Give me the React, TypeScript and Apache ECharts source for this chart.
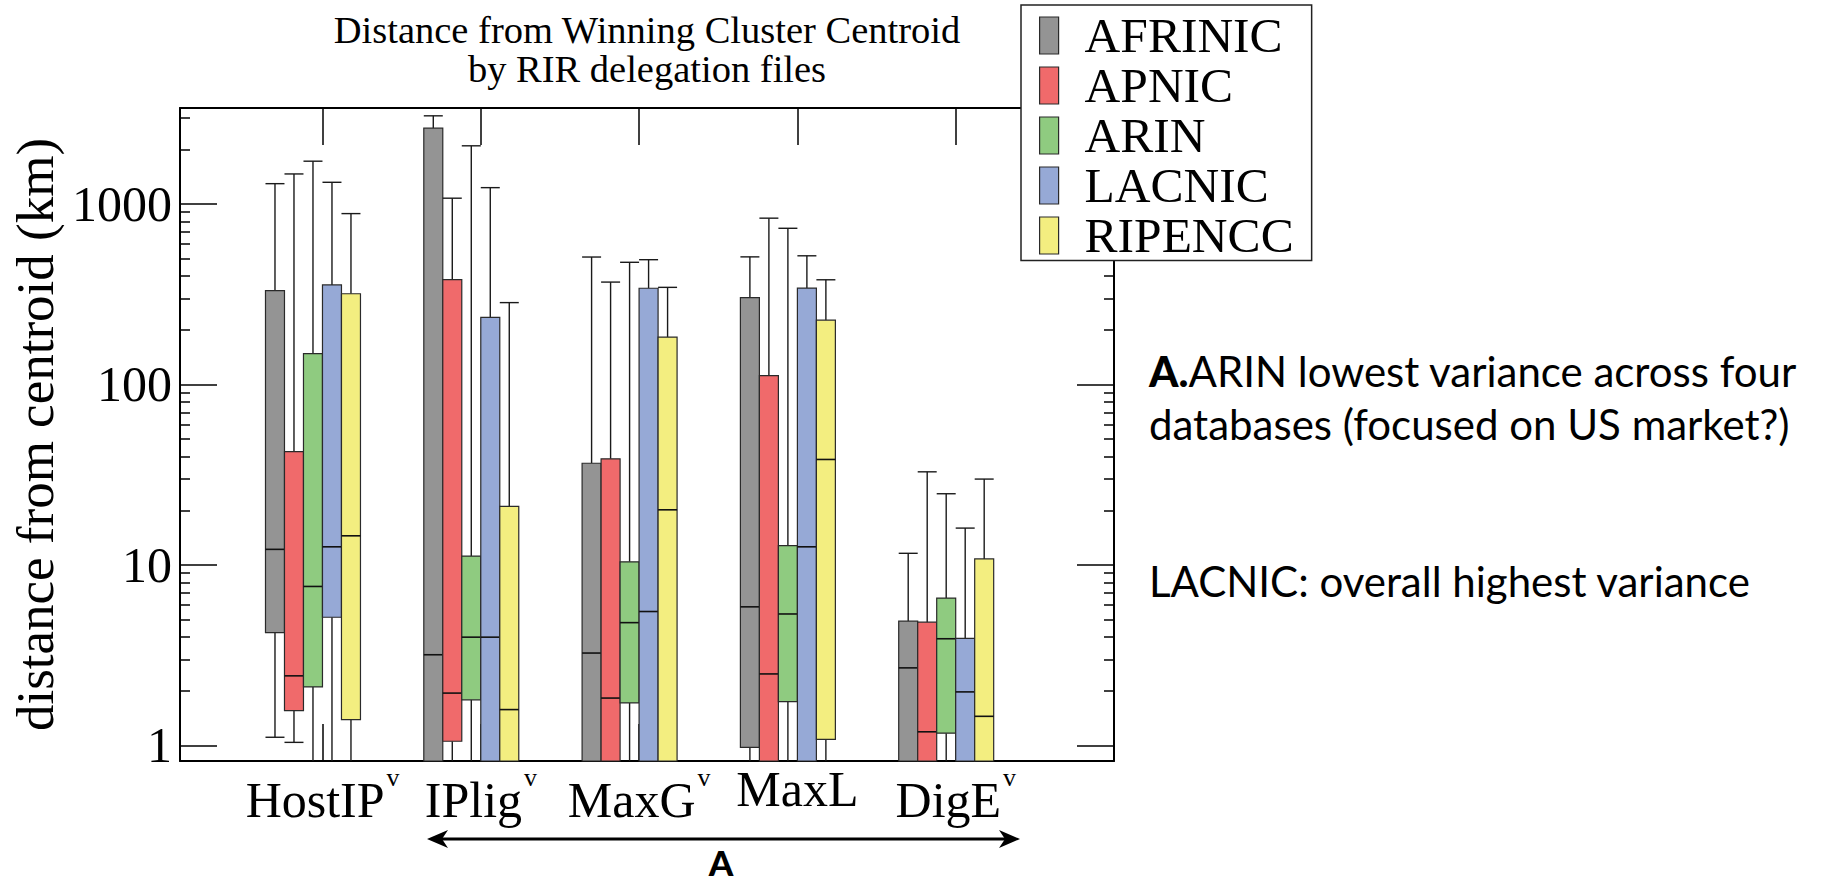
import React, { useEffect, useRef } from 'react';
import * as echarts from 'echarts';

const categories = ['HostIP', 'IPlig', 'MaxG', 'MaxL', 'DigE'];
const categoryMarks = ['v', 'v', 'v', '', 'v'];
const categoryPositions = [1, 2, 3, 4, 5];
const rirNames = ['AFRINIC', 'APNIC', 'ARIN', 'LACNIC', 'RIPENCC'];
const rirColors = ['#949494', '#f06a6b', '#8fcb80', '#96a9d6', '#f3ee80'];

// rows: [min, q1, median, q3, max] for HostIP, IPlig, MaxG, MaxL, DigE (km)
// values under the axis floor (0.82) run off the bottom of the plot
const afrinicStats = [
  [1.11, 4.22, 12.2, 331, 1295],
  [0.5, 0.6, 3.18, 2630, 3077],
  [0.5, 0.6, 3.25, 36.6, 508],
  [0.5, 0.976, 5.86, 303, 509],
  [0.5, 0.6, 2.69, 4.88, 11.6],
];
const apnicStats = [
  [1.04, 1.56, 2.43, 42.4, 1466],
  [0.5, 1.055, 1.95, 381, 1076],
  [0.5, 0.6, 1.83, 38.7, 369],
  [0.5, 0.6, 2.49, 112, 834],
  [0.5, 0.6, 1.19, 4.82, 32.8],
];
const arinStats = [
  [0.5, 2.11, 7.6, 148, 1725],
  [0.5, 1.79, 3.98, 11.2, 2099],
  [0.5, 1.72, 4.79, 10.4, 475],
  [0.5, 1.75, 5.35, 12.8, 733],
  [0.5, 1.17, 3.9, 6.55, 24.8],
];
const lacnicStats = [
  [0.5, 5.13, 12.6, 356, 1318],
  [0.5, 0.6, 3.98, 235, 1231],
  [0.5, 0.6, 5.52, 341, 491],
  [0.5, 0.6, 12.6, 342, 516],
  [0.5, 0.6, 1.98, 3.92, 16.0],
];
const ripenccStats = [
  [0.5, 1.39, 14.5, 318, 884],
  [0.5, 0.6, 1.58, 21.1, 284],
  [0.5, 0.6, 20.2, 183, 345],
  [0.5, 1.08, 38.4, 227, 380],
  [0.5, 0.6, 1.45, 10.8, 29.9],
];
const allStats = [afrinicStats, apnicStats, arinStats, lacnicStats, ripenccStats];

const yMajorTicks = [1, 10, 100, 1000];
const yMinorTicks = [2, 3, 4, 5, 6, 7, 8, 9, 20, 30, 40, 50, 60, 70, 80, 90, 200, 300, 400, 500, 600, 700, 800, 900, 2000, 3000];
const Y_MIN = 0.82;
const Y_MAX = 3400;
const X_MIN = 0.1;
const X_MAX = 6;
const BOX_W = 0.12;

const SERIF = '"Liberation Serif", "Times New Roman", serif';
const SANS = 'Lato, "Open Sans", sans-serif';

const makeRender = (slot: number, color: string) => (params: any, api: any) => {
  const cat = api.value(0);
  const xc = cat + (slot - 2.5) * BOX_W;
  const left = api.coord([xc - BOX_W / 2, 1])[0];
  const right = api.coord([xc + BOX_W / 2, 1])[0];
  const cx = (left + right) / 2;
  const cs = params.coordSys;
  const bottom = cs.y + cs.height;
  const yOf = (v: number) => api.coord([xc, v])[1];
  const yMin = yOf(api.value(1));
  const yQ1 = yOf(api.value(2));
  const yMed = yOf(api.value(3));
  const yQ3 = yOf(api.value(4));
  const yMax = yOf(api.value(5));
  const yQ1c = Math.min(yQ1, bottom);
  const yMinc = Math.min(yMin, bottom);
  const ls = { stroke: '#1a1a1a', lineWidth: 1.4 };
  const children: any[] = [
    { type: 'line', shape: { x1: cx, y1: yQ3, x2: cx, y2: yMax }, style: ls },
    { type: 'line', shape: { x1: left, y1: yMax, x2: right, y2: yMax }, style: ls },
  ];
  if (yQ1c < bottom) {
    children.push({ type: 'line', shape: { x1: cx, y1: yQ1c, x2: cx, y2: yMinc }, style: ls });
    if (yMin <= bottom) {
      children.push({ type: 'line', shape: { x1: left, y1: yMin, x2: right, y2: yMin }, style: ls });
    }
  }
  children.push({
    type: 'rect',
    shape: { x: left, y: yQ3, width: right - left, height: yQ1c - yQ3 },
    style: { fill: color, stroke: '#2a2a2a', lineWidth: 1.2 },
  });
  children.push({ type: 'line', shape: { x1: left, y1: yMed, x2: right, y2: yMed }, style: { stroke: '#111', lineWidth: 1.6 } });
  return { type: 'group', children };
};

const axisLineStyle = { color: '#000', width: 2 };
const tickLineStyle = { color: '#000', width: 1.5 };

export default function App() {
  const ref = useRef<HTMLDivElement>(null);
  useEffect(() => {
    if (!ref.current) return;
    const chart = echarts.init(ref.current, undefined, { renderer: 'svg' });
    const xLabelFormatter = (value: number) => {
      const i = categoryPositions.indexOf(Math.round(value));
      if (i < 0) return '';
      return categoryMarks[i] ? `{z| }{m|${categories[i]}}{s|${categoryMarks[i]}}` : `{m|${categories[i]}}`;
    };
    const xAxisBase = {
      type: 'value',
      min: X_MIN,
      max: X_MAX,
      splitLine: { show: false },
      axisLine: { show: true, lineStyle: axisLineStyle },
      axisTick: { show: true, inside: true, length: 37, customValues: categoryPositions, lineStyle: tickLineStyle },
    };
    const yAxisBase = {
      type: 'log',
      logBase: 10,
      min: Y_MIN,
      max: Y_MAX,
      splitLine: { show: false },
      minorTick: { show: false },
      minorSplitLine: { show: false },
    };
    const option: any = {
      animation: false,
      color: rirColors,
      title: {
        text: 'Distance from Winning Cluster Centroid\nby RIR delegation files',
        left: 647,
        top: 11,
        textAlign: 'center',
        padding: 0,
        textStyle: { fontFamily: SERIF, fontSize: 38.5, fontWeight: 'normal', color: '#000', lineHeight: 38.5 },
      },
      legend: {
        orient: 'vertical',
        left: 1021,
        top: 5,
        icon: 'rect',
        itemWidth: 19,
        itemHeight: 37,
        itemGap: 0,
        padding: [5.5, 18, 0, 18],
        backgroundColor: '#fff',
        borderColor: '#222',
        borderWidth: 1.5,
        itemStyle: { borderColor: '#2a2a2a', borderWidth: 1.2 },
        textStyle: { fontFamily: SERIF, fontSize: 49.5, color: '#000', padding: [0, 0, 0, 21] },
        data: rirNames,
      },
      grid: { left: 180, right: 710, top: 108, bottom: 122, containLabel: false },
      xAxis: [
        {
          ...xAxisBase,
          position: 'bottom',
          axisLabel: {
            show: true,
            customValues: categoryPositions,
            margin: 3,
            formatter: xLabelFormatter,
            rich: {
              z: { fontSize: 1, lineHeight: 61, verticalAlign: 'top' },
              m: { fontFamily: SERIF, fontSize: 50, color: '#000', lineHeight: 50, verticalAlign: 'bottom' },
              s: { fontFamily: SERIF, fontSize: 26, color: '#000', lineHeight: 8, verticalAlign: 'top', padding: [0, 0, 0, 2] },
            },
          },
        },
        { ...xAxisBase, position: 'top', axisLabel: { show: false } },
      ],
      yAxis: [
        {
          ...yAxisBase,
          position: 'left',
          axisLine: { show: true, lineStyle: axisLineStyle },
          axisTick: { show: true, inside: true, length: 37, customValues: yMajorTicks, lineStyle: tickLineStyle },
          axisLabel: {
            show: true,
            customValues: yMajorTicks,
            margin: 8,
            fontFamily: SERIF,
            fontSize: 50,
            color: '#000',
            formatter: (v: number) => String(Math.round(v)),
          },
          name: 'distance from centroid (km)',
          nameLocation: 'middle',
          nameRotate: 90,
          nameGap: 114,
          nameTextStyle: { fontFamily: SERIF, fontSize: 53, color: '#000' },
        },
        {
          ...yAxisBase,
          position: 'left',
          axisLine: { show: false },
          axisTick: { show: true, inside: true, length: 10, customValues: yMinorTicks, lineStyle: tickLineStyle },
          axisLabel: { show: false },
        },
        {
          ...yAxisBase,
          position: 'right',
          axisLine: { show: true, lineStyle: axisLineStyle },
          axisTick: { show: true, inside: true, length: 37, customValues: yMajorTicks, lineStyle: tickLineStyle },
          axisLabel: { show: false },
        },
        {
          ...yAxisBase,
          position: 'right',
          axisLine: { show: false },
          axisTick: { show: true, inside: true, length: 10, customValues: yMinorTicks, lineStyle: tickLineStyle },
          axisLabel: { show: false },
        },
      ],
      series: rirNames.map((name, slot) => ({
        name,
        type: 'custom',
        xAxisIndex: 0,
        yAxisIndex: 0,
        itemStyle: { color: rirColors[slot] },
        renderItem: makeRender(slot, rirColors[slot]),
        encode: { x: 0, y: [1, 2, 3, 4, 5] },
        data: allStats[slot].map((row, j) => [categoryPositions[j], ...row]),
      })),
      graphic: [
        { type: 'line', shape: { x1: 436, y1: 839, x2: 1011, y2: 839 }, style: { stroke: '#000', lineWidth: 3 } },
        { type: 'polygon', shape: { points: [[427, 839], [448, 830], [442, 839], [448, 848]] }, style: { fill: '#000' } },
        { type: 'polygon', shape: { points: [[1020, 839], [999, 830], [1005, 839], [999, 848]] }, style: { fill: '#000' } },
        {
          type: 'text', x: 721, y: 862,
          style: { text: 'A', fontFamily: SANS, fontSize: 35, fontWeight: 900, lineHeight: 30, fill: '#000', textAlign: 'center', textVerticalAlign: 'middle' },
        },
        {
          type: 'text', x: 1149, y: 344,
          style: {
            text: '{b|A.}ARIN lowest variance across four\ndatabases (focused on US market?)',
            fontFamily: SANS, fontSize: 42, fill: '#000', lineHeight: 53, textVerticalAlign: 'top',
            rich: { b: { fontFamily: SANS, fontSize: 42, fontWeight: 900, fill: '#000', lineHeight: 53 } },
          },
        },
        {
          type: 'text', x: 1149, y: 554,
          style: { text: 'LACNIC: overall highest variance', fontFamily: SANS, fontSize: 42, fill: '#000', lineHeight: 53, textVerticalAlign: 'top' },
        },
      ],
    };
    chart.setOption(option);
    return () => chart.dispose();
  }, []);
  return <div ref={ref} style={{ position: 'absolute', left: 0, top: 0, width: 1824, height: 883, background: '#fff' }} />;
}
